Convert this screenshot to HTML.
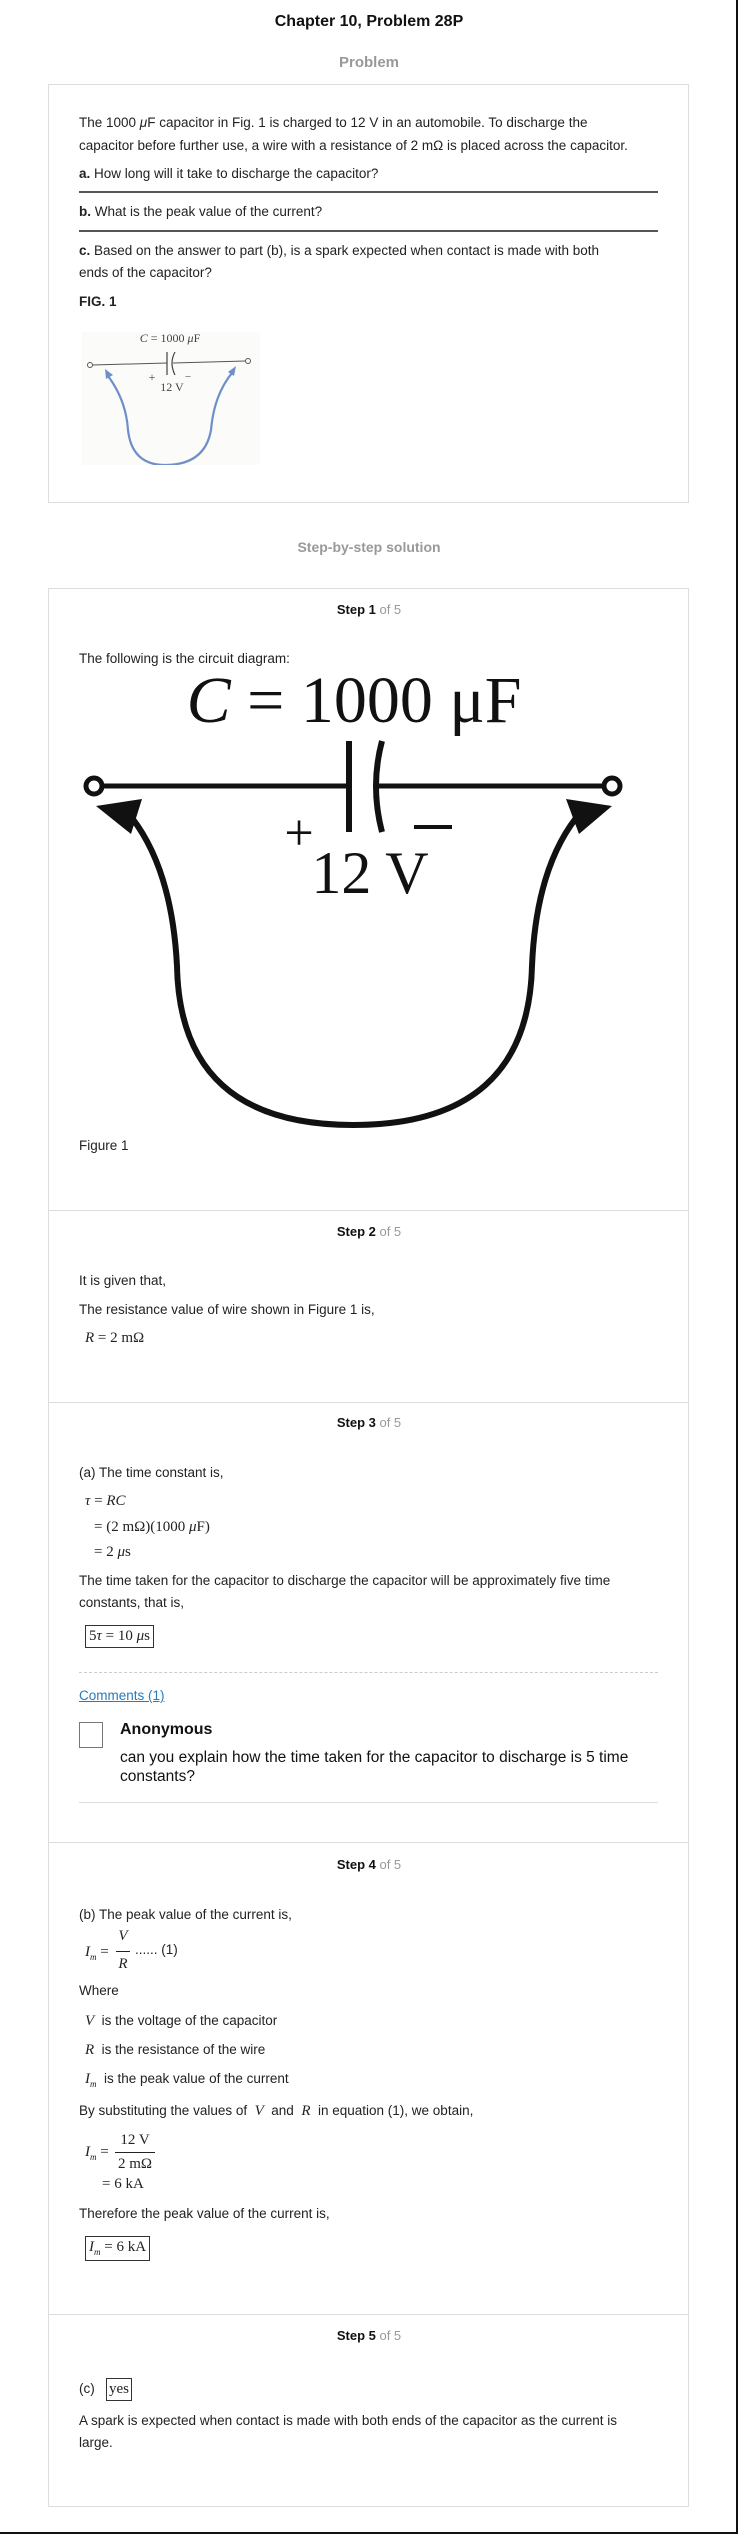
<!DOCTYPE html>
<html><head><meta charset="utf-8">
<style>
body{margin:0;background:#fff;}
#page{position:relative;width:738px;height:2534px;overflow:hidden;font-family:"Liberation Sans",Arial,sans-serif;color:#222;font-size:13.5px;}
.t{position:absolute;white-space:nowrap;line-height:20px;}
.c{position:absolute;left:0;width:738px;text-align:center;line-height:20px;}
.box{position:absolute;border:1px solid #ddd;box-sizing:border-box;}
.sep{position:absolute;left:49px;width:639px;height:1px;background:#ddd;}
.m{font-family:"Liberation Serif","Times New Roman",serif;font-size:15px;}
.i{font-style:italic;}
.step{font-size:13px;font-weight:bold;color:#111;}
.step span{font-weight:normal;color:#999;}
.fb{position:absolute;border:1px solid #333;box-sizing:border-box;padding:0 3px;line-height:20px;}
</style></head>
<body>
<div id="page">
<div class="c" style="top:12px;font-weight:bold;font-size:16px;color:#111;">Chapter 10, Problem 28P</div>
<div class="c" style="top:53px;font-weight:bold;font-size:15px;color:#999;">Problem</div>

<div class="box" style="left:48px;top:84px;width:641px;height:419px;"></div>
<div class="t" style="left:79px;top:113px;">The 1000 <i>μ</i>F capacitor in Fig. 1 is charged to 12 V in an automobile. To discharge the</div>
<div class="t" style="left:79px;top:136px;">capacitor before further use, a wire with a resistance of 2 mΩ is placed across the capacitor.</div>
<div class="t" style="left:79px;top:164px;"><b>a.</b> How long will it take to discharge the capacitor?</div>
<div style="position:absolute;left:79px;top:191px;width:579px;height:2px;background:#555;"></div>
<div class="t" style="left:79px;top:202px;"><b>b.</b> What is the peak value of the current?</div>
<div style="position:absolute;left:79px;top:230px;width:579px;height:2px;background:#555;"></div>
<div class="t" style="left:79px;top:241px;"><b>c.</b> Based on the answer to part (b), is a spark expected when contact is made with both</div>
<div class="t" style="left:79px;top:263px;">ends of the capacitor?</div>
<div class="t" style="left:79px;top:292px;font-weight:bold;">FIG. 1</div>

<svg style="position:absolute;left:82px;top:332px;" width="178" height="133">
<rect x="0" y="0" width="178" height="133" fill="#fbfbf9"/>
<g transform="translate(-82,-332)">
<text x="170" y="342" text-anchor="middle" font-family="Liberation Serif,serif" font-size="12" fill="#444"><tspan font-style="italic">C</tspan> = 1000 <tspan font-style="italic">μ</tspan>F</text>
<circle cx="90" cy="365" r="2.5" fill="none" stroke="#555" stroke-width="1"/>
<circle cx="248" cy="361" r="2.5" fill="none" stroke="#555" stroke-width="1"/>
<line x1="92.5" y1="365" x2="167" y2="363" stroke="#555" stroke-width="1"/>
<line x1="173" y1="363" x2="245.5" y2="361" stroke="#555" stroke-width="1"/>
<line x1="167" y1="352" x2="167" y2="375" stroke="#444" stroke-width="1.2"/>
<path d="M175 352 Q169 363 175 375" fill="none" stroke="#444" stroke-width="1.2"/>
<text x="152" y="381" text-anchor="middle" font-family="Liberation Serif,serif" font-size="12" fill="#444">+</text>
<text x="188" y="380" text-anchor="middle" font-family="Liberation Serif,serif" font-size="11" fill="#444">−</text>
<text x="172" y="391" text-anchor="middle" font-family="Liberation Serif,serif" font-size="12" fill="#444">12 V</text>
<path d="M108 376 Q126 400 128 430 Q132 466 167 465 Q205 464 211 430 Q214 395 232 373" fill="none" stroke="#6f8fc8" stroke-width="2.2"/>
<path d="M105 369 L113 375 L106 379 Z" fill="#6f8fc8"/>
<path d="M236 366 L234 376 L228 372 Z" fill="#6f8fc8"/>
</g>
</svg>

<div class="c" style="top:537px;font-weight:bold;font-size:14px;color:#999;">Step-by-step solution</div>

<div class="box" style="left:48px;top:588px;width:641px;height:1919px;"></div>

<!-- Step 1 -->
<div class="c step" style="top:600px;">Step 1 <span>of 5</span></div>
<div class="t" style="left:79px;top:649px;">The following is the circuit diagram:</div>
<svg style="position:absolute;left:60px;top:660px;" width="600" height="520">
<g transform="translate(-60,-660)">
<text x="354" y="722" text-anchor="middle" font-family="Liberation Serif,serif" font-size="66" fill="#111"><tspan font-style="italic">C</tspan> = 1000 μF</text>
<circle cx="94" cy="786" r="8" fill="none" stroke="#111" stroke-width="5"/>
<circle cx="612" cy="786" r="8" fill="none" stroke="#111" stroke-width="5"/>
<line x1="102" y1="786" x2="349" y2="786" stroke="#111" stroke-width="5"/>
<line x1="377" y1="786" x2="604" y2="786" stroke="#111" stroke-width="5"/>
<line x1="349" y1="741" x2="349" y2="832" stroke="#111" stroke-width="6"/>
<path d="M382 741 Q370 786 382 832" fill="none" stroke="#111" stroke-width="6"/>
<text x="299" y="850" text-anchor="middle" font-family="Liberation Serif,serif" font-size="52" fill="#111">+</text>
<line x1="414" y1="827" x2="452" y2="827" stroke="#111" stroke-width="4"/>
<text x="370" y="893" text-anchor="middle" font-family="Liberation Serif,serif" font-size="60" fill="#111">12 V</text>
<path d="M132 818 Q172 870 177 966 Q180 1125 353 1125 Q528 1125 532 966 Q536 870 576 818" fill="none" stroke="#111" stroke-width="6"/>
<path d="M96 806 L142 799 L131 834 Z" fill="#111"/>
<path d="M612 806 L566 799 L579 834 Z" fill="#111"/>
</g>
</svg>
<div class="t" style="left:79px;top:1136px;">Figure 1</div>
<div class="sep" style="top:1210px;"></div>

<!-- Step 2 -->
<div class="c step" style="top:1222px;">Step 2 <span>of 5</span></div>
<div class="t" style="left:79px;top:1271px;">It is given that,</div>
<div class="t" style="left:79px;top:1300px;">The resistance value of wire shown in Figure 1 is,</div>
<div class="t m" style="left:85px;top:1328px;"><i>R</i> = 2 mΩ</div>
<div class="sep" style="top:1402px;"></div>

<!-- Step 3 -->
<div class="c step" style="top:1413px;">Step 3 <span>of 5</span></div>
<div class="t" style="left:79px;top:1463px;">(a) The time constant is,</div>
<div class="t m" style="left:85px;top:1491px;"><i>τ</i> = <i>RC</i></div>
<div class="t m" style="left:94px;top:1517px;">= (2 mΩ)(1000 <i>μ</i>F)</div>
<div class="t m" style="left:94px;top:1542px;">= 2 <i>μ</i>s</div>
<div class="t" style="left:79px;top:1571px;">The time taken for the capacitor to discharge the capacitor will be approximately five time</div>
<div class="t" style="left:79px;top:1593px;">constants, that is,</div>
<div class="fb m" style="left:85px;top:1625px;height:23px;">5<i>τ</i> = 10 <i>μ</i>s</div>
<div style="position:absolute;left:79px;top:1672px;width:579px;border-top:1px dashed #ccc;"></div>
<div class="t" style="left:79px;top:1686px;color:#2a7ab8;text-decoration:underline;">Comments (1)</div>
<div style="position:absolute;left:79px;top:1722px;width:24px;height:26px;border:1px solid #777;box-sizing:border-box;"></div>
<div class="t" style="left:120px;top:1720px;font-weight:bold;font-size:16px;color:#111;">Anonymous</div>
<div class="t" style="left:120px;top:1748px;font-size:15.5px;color:#111;">can you explain how the time taken for the capacitor to discharge is 5 time</div>
<div class="t" style="left:120px;top:1767px;font-size:15.5px;color:#111;">constants?</div>
<div style="position:absolute;left:79px;top:1802px;width:579px;height:1px;background:#ddd;"></div>
<div class="sep" style="top:1842px;"></div>

<!-- Step 4 -->
<div class="c step" style="top:1855px;">Step 4 <span>of 5</span></div>
<div class="t" style="left:79px;top:1905px;">(b) The peak value of the current is,</div>
<div class="t m" style="left:85px;top:1942px;"><i>I</i><sub style="font-size:9px"><i>m</i></sub> =</div>
<div class="t m" style="left:116px;top:1927px;font-style:italic;width:14px;text-align:center;line-height:18px;">V</div>
<div style="position:absolute;left:116px;top:1951px;width:14px;height:1px;background:#222;"></div>
<div class="t m" style="left:116px;top:1955px;font-style:italic;width:14px;text-align:center;line-height:18px;">R</div>
<div class="t" style="left:135px;top:1940px;">...... (1)</div>
<div class="t" style="left:79px;top:1981px;">Where</div>
<div class="t" style="left:85px;top:2011px;"><span class="m i">V</span>&nbsp; is the voltage of the capacitor</div>
<div class="t" style="left:85px;top:2040px;"><span class="m i">R</span>&nbsp; is the resistance of the wire</div>
<div class="t" style="left:85px;top:2069px;"><span class="m i">I<sub style="font-size:9px">m</sub></span>&nbsp; is the peak value of the current</div>
<div class="t" style="left:79px;top:2101px;">By substituting the values of &nbsp;<span class="m i">V</span>&nbsp; and &nbsp;<span class="m i">R</span>&nbsp; in equation (1), we obtain,</div>
<div class="t m" style="left:85px;top:2142px;"><i>I</i><sub style="font-size:9px"><i>m</i></sub> =</div>
<div class="t m" style="left:115px;top:2130px;width:40px;text-align:center;">12 V</div>
<div style="position:absolute;left:115px;top:2152px;width:40px;height:1px;background:#222;"></div>
<div class="t m" style="left:115px;top:2154px;width:40px;text-align:center;">2 mΩ</div>
<div class="t m" style="left:102px;top:2174px;">= 6 kA</div>
<div class="t" style="left:79px;top:2204px;">Therefore the peak value of the current is,</div>
<div class="fb m" style="left:85px;top:2236px;height:25px;"><i>I</i><sub style="font-size:9px"><i>m</i></sub> = 6 kA</div>
<div class="sep" style="top:2314px;"></div>

<!-- Step 5 -->
<div class="c step" style="top:2326px;">Step 5 <span>of 5</span></div>
<div class="t" style="left:79px;top:2379px;">(c)</div>
<div class="fb m" style="left:106px;top:2378px;height:23px;padding:0 2px;">yes</div>
<div class="t" style="left:79px;top:2411px;">A spark is expected when contact is made with both ends of the capacitor as the current is</div>
<div class="t" style="left:79px;top:2433px;">large.</div>

<div style="position:absolute;left:736px;top:0;width:2px;height:2534px;background:#111;"></div>
<div style="position:absolute;left:0;top:2532px;width:738px;height:2px;background:#111;"></div>
</div>
</body></html>
